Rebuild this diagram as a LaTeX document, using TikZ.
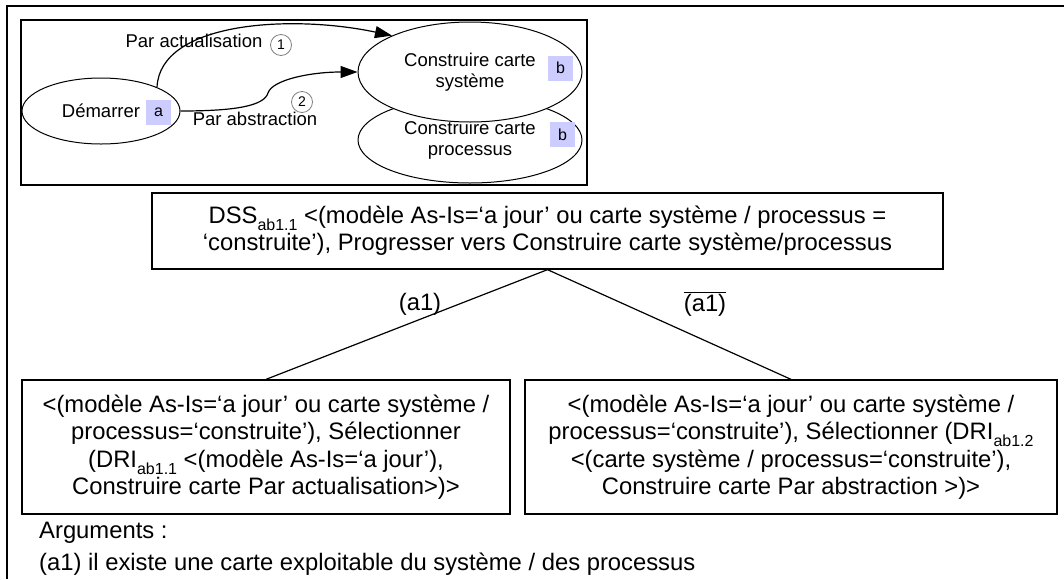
\documentclass[tikz,border=0pt]{standalone}
\usepackage{fontspec}
\setmainfont{Liberation Sans}
\usetikzlibrary{shapes.geometric,arrows.meta}
\newcommand\mysub[1]{\raisebox{-0.3em}{\fontsize{16}{16}\selectfont #1}}
\tikzset{
  ell/.style={ellipse,draw,line width=1pt,inner sep=0pt,align=center,font=\fontsize{18.5}{21}\selectfont},
  tag/.style={fill={rgb,255:red,204;green,204;blue,255},minimum size=25pt,inner sep=0pt,font=\fontsize{16}{16}\selectfont},
  num/.style={circle,draw={rgb,255:red,128;green,128;blue,128},line width=0.8pt,minimum size=21pt,inner sep=0pt,font=\fontsize{14}{14}\selectfont},
  lbl/.style={inner sep=0pt,font=\fontsize{18.5}{21}\selectfont},
  big/.style={draw,line width=1.3pt,align=center,inner sep=0pt,font=\fontsize{23.8}{27.4}\selectfont},
  txt/.style={inner sep=0pt,font=\fontsize{23.8}{27.4}\selectfont},
  arr/.style={line width=1.2pt,-{Triangle[length=17pt,width=12pt]}},
}
\begin{document}
\begin{tikzpicture}[x=1pt,y=-1pt]
\useasboundingbox (0,0) rectangle (1064,579);
% outer frame (open at right and bottom)
\draw[line width=1.8pt] (7,579) -- (7,6) -- (1064,6);
% inner box
\draw[line width=1.5pt] (21,20) rectangle (587,185);
% ellipses
\node[ell,minimum width=224pt,minimum height=86pt] (proc) at (470,140) {Construire carte\\processus};
\node[ell,fill=white,minimum width=224pt,minimum height=100pt] (sys) at (470,72) {Construire carte\\système};
\node[ell,minimum width=158pt,minimum height=66pt] (dem) at (101,111) {Démarrer};
\node[tag] (ta) at (158.5,112.5) {a};
\node[tag] (tb1) at (560.5,68) {b};
\node[tag] (tb2) at (562.5,134.5) {b};
% arrows
\draw[arr] (dem.23) .. controls (160,22) and (290,14) .. (sys.155);
\coordinate (mid2) at (268,93);
\draw[arr] (dem.east) .. controls (235,111) and (264,106) .. (mid2) .. controls (272,80) and (310,72) .. (sys.west);
\node[lbl] (l1) at (194,41) {Par actualisation};
\node[num] (n1) at (281,45) {1};
\node[lbl] (l2) at (255,119) {Par abstraction};
\node[num] (n2) at (302,102) {2};
% DSS box
\node[big,minimum width=791pt,minimum height=76pt] (dss) at (547.5,231) {DSS\mysub{ab1.1} <(modèle As-Is=‘a jour’ ou carte système / processus =\\‘construite’), Progresser vers Construire carte système/processus};
\node[big,minimum width=488pt,minimum height=134pt] (lb) at (266,447) {<(modèle As-Is=‘a jour’ ou carte système /\\processus=‘construite’), Sélectionner\\(DRI\mysub{ab1.1} <(modèle As-Is=‘a jour’),\\Construire carte Par actualisation>)>};
\node[big,minimum width=532pt,minimum height=134pt] (rb) at (791,447) {<(modèle As-Is=‘a jour’ ou carte système /\\processus=‘construite’), Sélectionner (DRI\mysub{ab1.2}\\<(carte système / processus=‘construite’),\\Construire carte Par abstraction >)>};
\draw[line width=1.2pt] (lb.north) -- (dss.south) -- (rb.north);
\node[txt] (a1) at (420,304) {(a1)};
\node[txt] (na1) at (705,304) {$\overline{\hbox{(a1)}}$};
% arguments
\node[txt,anchor=west] (arg) at (39,533) {Arguments :};
\node[txt,anchor=west] (arg1) at (39,564) {(a1) il existe une carte exploitable du système / des processus};
\end{tikzpicture}
\end{document}
